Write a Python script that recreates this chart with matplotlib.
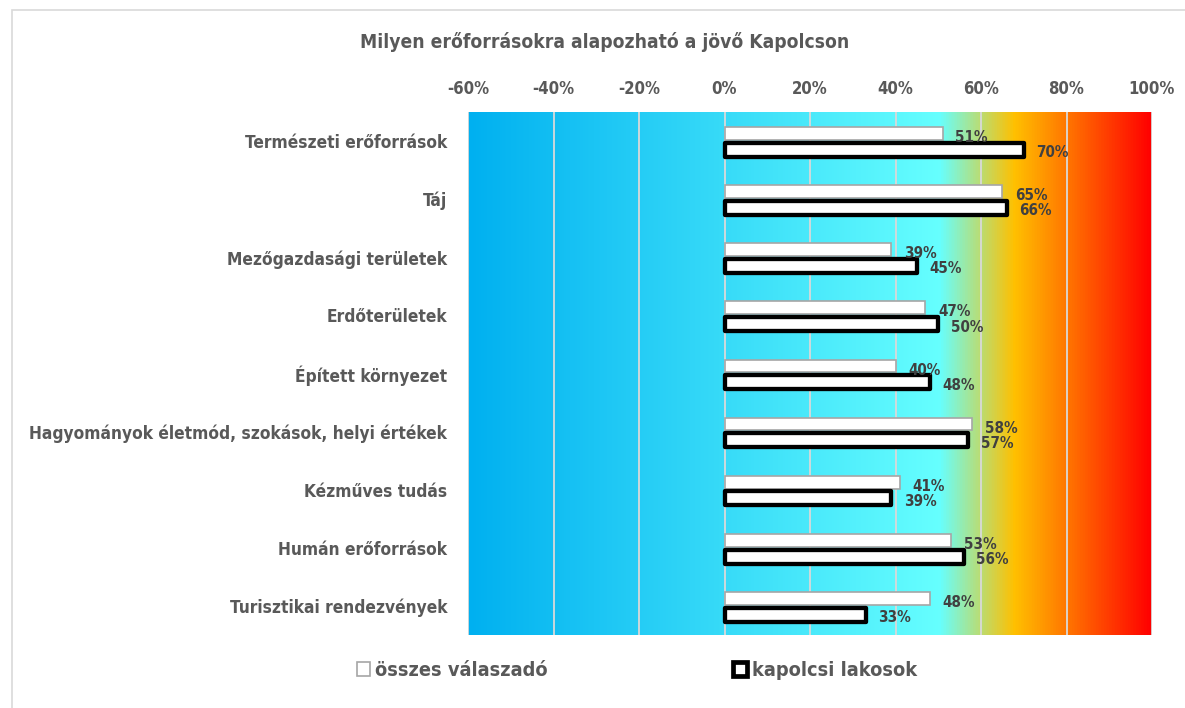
import numpy as np
import matplotlib
matplotlib.use('Agg')
from matplotlib import pyplot as plt
from matplotlib import font_manager as fm
from matplotlib.colors import LinearSegmentedColormap
from matplotlib.patches import Rectangle
from matplotlib.ticker import FuncFormatter

categories = ['Természeti erőforrások', 'Táj', 'Mezőgazdasági területek',
              'Erdőterületek', 'Épített környezet',
              'Hagyományok életmód, szokások, helyi értékek',
              'Kézműves tudás', 'Humán erőforrások', 'Turisztikai rendezvények']
osszes = [51, 65, 39, 47, 40, 58, 41, 53, 48]        # összes válaszadó (%)
kapolcsi = [70, 66, 45, 50, 48, 57, 39, 56, 33]      # kapolcsi lakosok (%)
xticks = [-60, -40, -20, 0, 20, 40, 60, 80, 100]

title = 'Milyen erőforrásokra alapozható a jövő Kapolcson'
gray = '#595959'
dark = '#404040'

# a narrow bold face if there is one, else plain Liberation Sans
narrow = [f.fname for f in fm.fontManager.ttflist
          if 'Narrow-Bold.' in f.fname or 'Condensed-Bold.' in f.fname]
def fp(size):
    if narrow:
        return fm.FontProperties(fname=sorted(narrow)[0], size=size * 0.95)
    return fm.FontProperties(family=['Liberation Sans', 'DejaVu Sans'], weight='bold', size=size)

fig = plt.figure(figsize=(11.85, 7.08), dpi=100)
ax = fig.add_axes([468/1185, 1-635/708, (1152-468)/1185, (635-112)/708])

# gradient background
cmap = LinearSegmentedColormap.from_list('bg', [
    (0.0, '#00B0F0'), (0.69, '#66FFFF'), (0.80, '#FFC000'), (1.0, '#FF0000')])
grad = np.linspace(0, 1, 512).reshape(1, -1)
ax.imshow(grad, cmap=cmap, aspect='auto', extent=(-60, 100, len(categories)-0.5, -0.5),
          zorder=0, interpolation='bilinear')

y = np.arange(len(categories))
ax.barh(y - 0.13, osszes, height=0.22, color='white', edgecolor='#A6A6A6', linewidth=1.2, zorder=3)
ax.barh(y + 0.15, kapolcsi, height=0.24, color='white', edgecolor='black', linewidth=3.1,
        joinstyle='round', zorder=3)

for i in range(len(categories)):
    ax.annotate(f'{osszes[i]}%', (osszes[i], y[i] - 0.06), xytext=(9, 0), textcoords='offset points',
                ha='left', va='center', fontproperties=fp(11.5), color=dark, zorder=4)
    ax.annotate(f'{kapolcsi[i]}%', (kapolcsi[i], y[i] + 0.2), xytext=(9, 0), textcoords='offset points',
                ha='left', va='center', fontproperties=fp(11.5), color=dark, zorder=4)

ax.set_xlim(-60, 100)
ax.set_ylim(len(categories)-0.5, -0.5)
ax.set_xticks(xticks)
ax.xaxis.set_major_formatter(FuncFormatter(lambda v, p: f'{v:.0f}%'))
ax.xaxis.tick_top()
ax.grid(axis='x', color='#D9D9D9', linewidth=1.3)
for gl in ax.get_xgridlines():
    gl.set_zorder(1)
ax.set_yticks(y)
ax.set_yticklabels(categories)
ax.tick_params(axis='y', length=0, pad=15)
ax.tick_params(axis='x', length=0, pad=10)
for lab in ax.get_xticklabels():
    lab.set_fontproperties(fp(12.6))
    lab.set_color(gray)
for lab in ax.get_yticklabels():
    lab.set_fontproperties(fp(13.1))
    lab.set_color(gray)
for s in ax.spines.values():
    s.set_visible(False)

fig.text(605/1185, 1-42/708, title, ha='center', va='center',
         fontproperties=fp(14.5), color=gray)

# legend
h1 = Rectangle((0, 0), 1, 1, facecolor='white', edgecolor='#A6A6A6', linewidth=1.2)
h2 = Rectangle((0, 0), 1, 1, facecolor='white', edgecolor='black', linewidth=3.4, joinstyle='round')
leg = fig.legend([h1, h2], ['összes válaszadó', 'kapolcsi lakosok'], loc='center',
                 bbox_to_anchor=(637/1185, 1-670/708), ncol=2, frameon=False,
                 handlelength=0.7, handleheight=0.7, handletextpad=0.25, columnspacing=9.3,
                 prop=fp(15.1))
for t in leg.get_texts():
    t.set_color(gray)

# chart border
fig.patches.append(Rectangle((12/1185, -0.05), 1.1, 1.05 - 10/708, transform=fig.transFigure,
                             fill=False, edgecolor='#D9D9D9', linewidth=1.2))

fig.savefig('out.png', dpi=100)
